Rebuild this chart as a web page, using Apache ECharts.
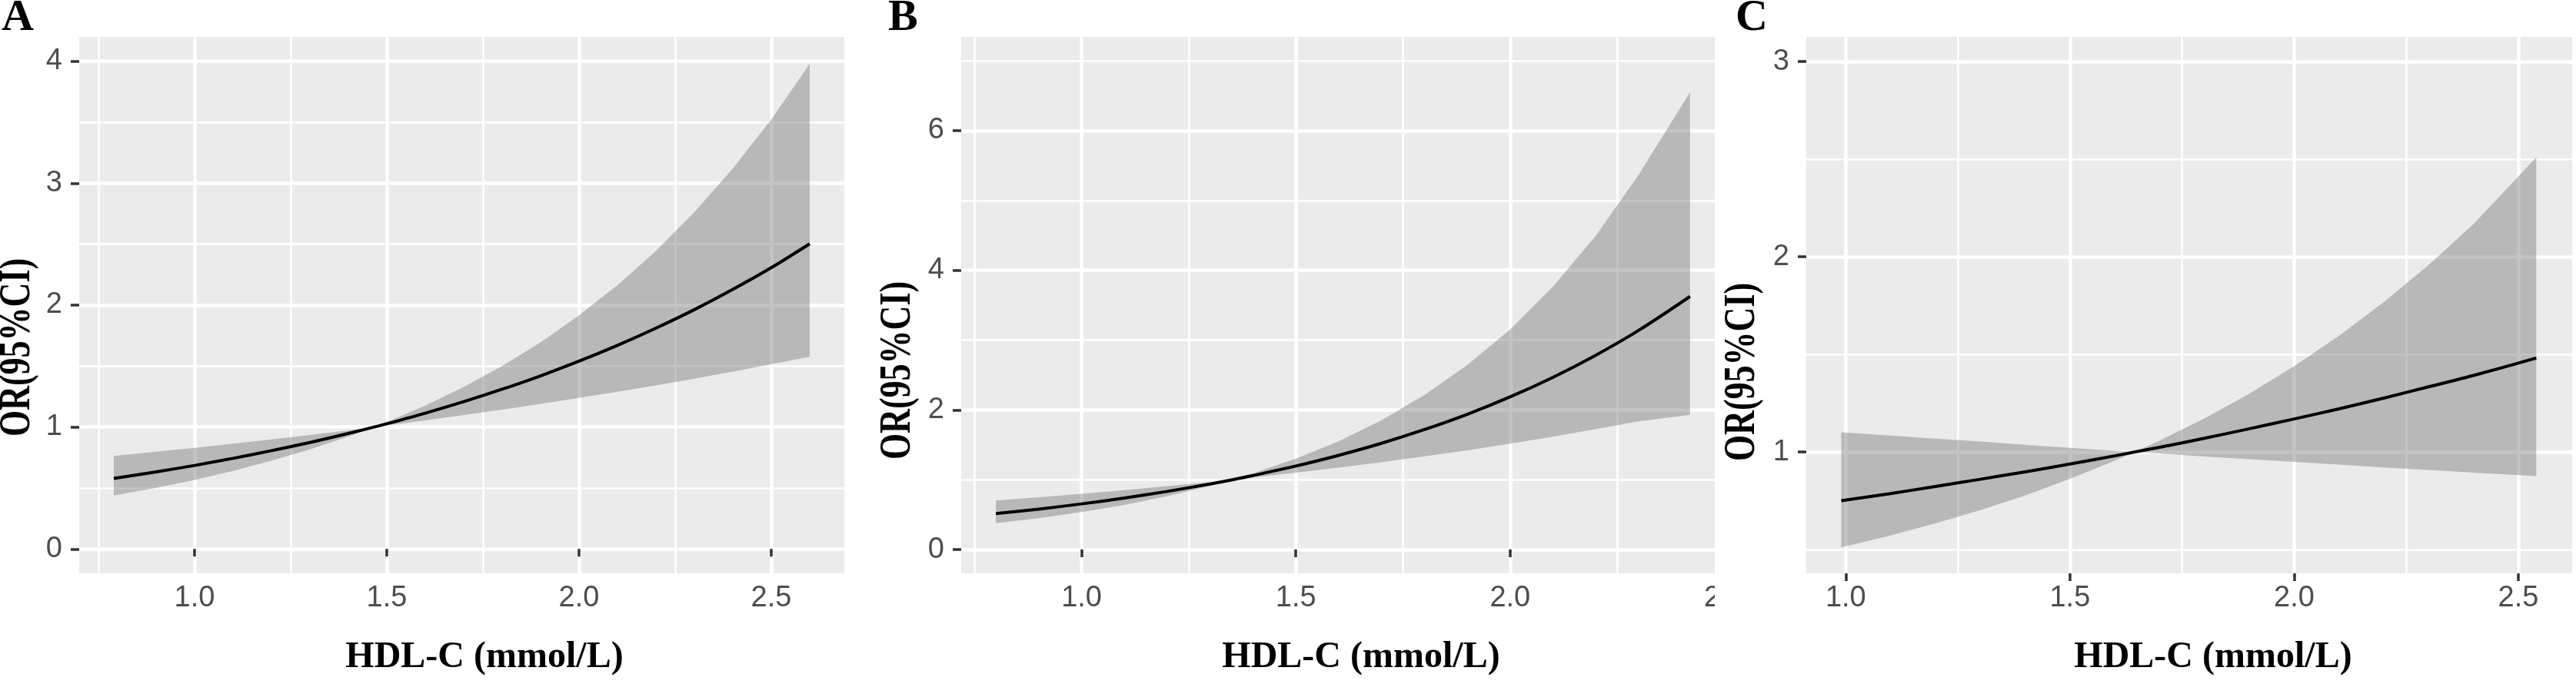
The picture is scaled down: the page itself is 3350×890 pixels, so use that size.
<!DOCTYPE html>
<html><head><meta charset="utf-8">
<script src="https://cdn.jsdelivr.net/npm/echarts@6/dist/echarts.min.js"></script>
<style>html,body{margin:0;padding:0;background:#fff}#c{width:3350px;height:890px}</style>
</head><body><div id="c"></div><script>
// ---------- Data ----------
// Panel A
const xA   = [0.79,0.9,1.0,1.1,1.2,1.3,1.4,1.467,1.5,1.6,1.7,1.8,1.9,2.0,2.1,2.2,2.3,2.4,2.5,2.6];
const orA  = [0.578,0.632,0.685,0.743,0.806,0.873,0.947,1.0,1.027,1.114,1.208,1.310,1.420,1.540,1.670,1.811,1.963,2.129,2.307,2.503];
const lowA = [0.438,0.501,0.566,0.640,0.723,0.816,0.922,1.0,1.014,1.055,1.099,1.143,1.190,1.239,1.289,1.342,1.397,1.454,1.514,1.576];
const upA  = [0.763,0.797,0.829,0.863,0.899,0.935,0.973,1.0,1.041,1.176,1.328,1.501,1.695,1.916,2.164,2.445,2.762,3.120,3.522,3.979];
// Panel B
const xB   = [0.80,0.9,1.0,1.1,1.2,1.3,1.352,1.4,1.5,1.6,1.7,1.8,1.9,2.0,2.1,2.2,2.3,2.42];
const orB  = [0.514,0.579,0.654,0.738,0.833,0.939,1.0,1.060,1.196,1.349,1.522,1.718,1.937,2.186,2.467,2.784,3.139,3.625];
const lowB = [0.376,0.449,0.536,0.640,0.764,0.912,1.0,1.031,1.100,1.172,1.250,1.334,1.421,1.516,1.616,1.725,1.837,1.93];
const upB  = [0.702,0.748,0.798,0.850,0.908,0.967,1.0,1.089,1.301,1.551,1.853,2.212,2.641,3.152,3.766,4.495,5.366,6.55];
// Panel C
const xC   = [0.99,1.1,1.2,1.3,1.4,1.5,1.6,1.645,1.7,1.8,1.9,2.0,2.1,2.2,2.3,2.4,2.54];
const orC  = [0.750,0.787,0.823,0.860,0.898,0.938,0.980,1.0,1.024,1.070,1.119,1.169,1.221,1.276,1.334,1.392,1.481];
const lowC = [0.511,0.572,0.634,0.702,0.777,0.862,0.955,1.0,0.992,0.977,0.963,0.949,0.935,0.921,0.908,0.894,0.876];
const upC  = [1.101,1.084,1.068,1.053,1.037,1.021,1.006,1.0,1.058,1.172,1.299,1.439,1.595,1.768,1.958,2.168,2.51];
// Tick labels
const xTicks  = [1.0,1.5,2.0,2.5];
const xMinor  = [0.75,1.25,1.75,2.25];
const yTicksA = [0,1,2,3,4];
const yMinorA = [0.5,1.5,2.5,3.5];
const yTicksB = [0,2,4,6];
const yMinorB = [1,3,5,7];
const yTicksC = [1,2,3];
const yMinorC = [0.5,1.5,2.5];
const panelLetters = ['A','B','C'];
const xTitle = 'HDL-C (mmol/L)';
const yTitle = 'OR(95%CI)';

// ---------- Layout ----------
const panels = [
  {left:103,  width:995, xMin:0.70,  xMax:2.69,  yMin:-0.2,   yMax:4.2,   yT:yTicksA, yM:yMinorA, x:xA, or:orA, lo:lowA, up:upA,
   letterX:2, xTitleX:630, yTitleX:23, yTitleY:452},
  {left:1250, width:993, xMin:0.719, xMax:2.501, yMin:-0.341, yMax:7.343, yT:yTicksB, yM:yMinorB, x:xB, or:orB, lo:lowB, up:upB,
   letterX:1155, xTitleX:1770, yTitleX:1168, yTitleY:482},
  {left:2349, width:996, xMin:0.912, xMax:2.62,  yMin:0.378,  yMax:3.127, yT:yTicksC, yM:yMinorC, x:xC, or:orC, lo:lowC, up:upC,
   letterX:2257, xTitleX:2878, yTitleX:2266, yTitleY:484}
];
const TOP = 48, HEIGHT = 698;
const tickFont = '"Liberation Sans", Arial, sans-serif';
const serif = '"Liberation Serif", "Times New Roman", serif';
const inRange = (arr, lo, hi) => arr.filter(v => v >= lo && v <= hi);

const grid = [], xAxis = [], yAxis = [], series = [], graphic = [];
panels.forEach((p, i) => {
  grid.push({left:p.left, top:TOP, width:p.width, height:HEIGHT, show:true,
             backgroundColor:'#EBEBEB', borderWidth:0, containLabel:false});
  const xt = inRange(xTicks, p.xMin, p.xMax), xm = inRange(xMinor, p.xMin, p.xMax);
  const yt = inRange(p.yT, p.yMin, p.yMax), ym = inRange(p.yM, p.yMin, p.yMax);
  // major x
  xAxis.push({type:'value', gridIndex:i, min:p.xMin, max:p.xMax, position:'bottom',
    axisLine:{show:false},
    axisTick:{show:true, length:10, customValues:xt, lineStyle:{color:'#333333', width:3.5}},
    axisLabel:{customValues:xt, formatter:v => v.toFixed(1), color:'#4D4D4D', fontSize:38,
               fontFamily:tickFont, margin:14},
    splitLine:{show:true, lineStyle:{color:'#FFFFFF', width:4.5}}});
  // minor x
  xAxis.push({type:'value', gridIndex:i, min:p.xMin, max:p.xMax, position:'top',
    axisLine:{show:false},
    axisTick:{show:false, customValues:xm},
    axisLabel:{show:false, customValues:xm},
    splitLine:{show:true, lineStyle:{color:'#FFFFFF', width:2.6}}});
  // major y
  yAxis.push({type:'value', gridIndex:i, min:p.yMin, max:p.yMax, position:'left',
    axisLine:{show:false},
    axisTick:{show:true, length:11, customValues:yt, lineStyle:{color:'#333333', width:3.5}},
    axisLabel:{customValues:yt, formatter:v => String(v), color:'#4D4D4D', fontSize:38,
               fontFamily:tickFont, margin:22},
    splitLine:{show:true, lineStyle:{color:'#FFFFFF', width:4.5}}});
  // minor y
  yAxis.push({type:'value', gridIndex:i, min:p.yMin, max:p.yMax, position:'right',
    axisLine:{show:false},
    axisTick:{show:false, customValues:ym},
    axisLabel:{show:false, customValues:ym},
    splitLine:{show:true, lineStyle:{color:'#FFFFFF', width:2.6}}});

  const xi = 2*i, yi = 2*i;
  // 95% CI ribbon: one polygon through upper points then lower points, placed by the axes
  series.push({type:'custom', xAxisIndex:xi, yAxisIndex:yi, silent:true, z:2,
    data:p.x.map((x,j) => [x, p.lo[j], p.up[j]]),
    encode:{x:0, y:[1,2]},
    renderItem:(params, api) => {
      if (params.dataIndex !== 0) return null;
      const pts = [];
      for (let j = 0; j < p.x.length; j++) pts.push(api.coord([p.x[j], p.up[j]]));
      for (let j = p.x.length - 1; j >= 0; j--) pts.push(api.coord([p.x[j], p.lo[j]]));
      return {type:'polygon', shape:{points:pts}, style:{fill:'rgba(115,115,115,0.42)', stroke:null}};
    }});
  series.push({type:'line', xAxisIndex:xi, yAxisIndex:yi, symbol:'none', silent:true, z:3,
    smooth:0.3, lineStyle:{color:'#000000', width:4}, data:p.x.map((x,j) => [x, p.or[j]])});
});

// white strip: panel C's background covers the right edge of panel B
graphic.push({type:'rect', z:100, shape:{x:2230, y:0, width:72, height:890}, style:{fill:'#FFFFFF'}});
panels.forEach((p, i) => {
  graphic.push({type:'text', z:101, x:p.letterX, y:24,
    style:{text:panelLetters[i], font:'bold 58px ' + serif, fill:'#000', align:'left', verticalAlign:'middle'}});
  graphic.push({type:'text', z:101, x:p.xTitleX, y:856,
    style:{text:xTitle, font:'bold 48px ' + serif, fill:'#000', align:'center', verticalAlign:'middle'}});
  graphic.push({type:'text', z:101, x:p.yTitleX, y:p.yTitleY, rotation:Math.PI/2, scaleY:1.3,
    style:{text:yTitle, font:'bold 44px ' + serif, fill:'#000', align:'center', verticalAlign:'middle'}});
});

const chart = echarts.init(document.getElementById('c'), null, {renderer:'canvas'});
chart.setOption({animation:false, backgroundColor:'#FFFFFF', grid, xAxis, yAxis, series, graphic});
</script></body></html>
